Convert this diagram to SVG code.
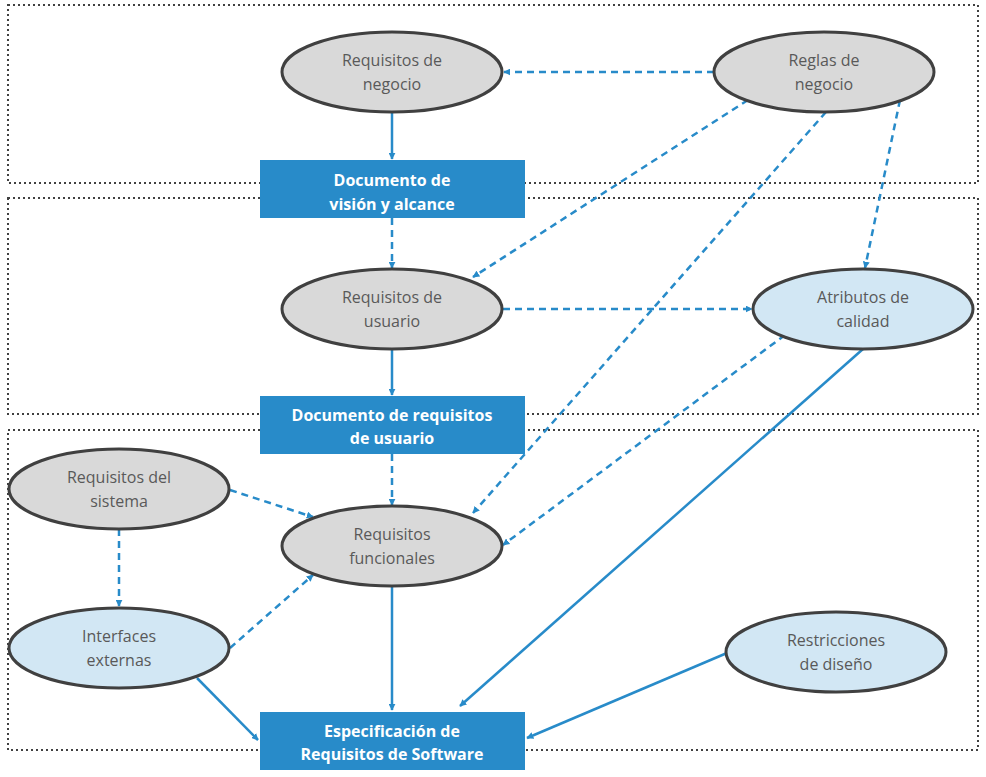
<svg xmlns="http://www.w3.org/2000/svg" width="986" height="777" viewBox="0 0 986 777">
<style>
.zone{fill:none;stroke:#404040;stroke-width:2;stroke-dasharray:2 3}
.g{fill:#d9d9d9;stroke:#404040;stroke-width:3}
.b{fill:#d2e7f4;stroke:#404040;stroke-width:3}
.r{fill:#288bc9}
.t{font-family:"Open Sans",sans-serif;font-size:16px;fill:#595959;text-anchor:middle}
.w{font-family:"Open Sans",sans-serif;font-size:16px;font-weight:bold;fill:#fff;text-anchor:middle}
.c{stroke:#288bc9;stroke-width:2.5;fill:none;marker-end:url(#a)}
.d{stroke-dasharray:7 5}
</style>
<defs><marker id="a" viewBox="0 0 10 10" refX="9" refY="5" markerWidth="7" markerHeight="7" markerUnits="userSpaceOnUse" orient="auto"><path d="M0,0L10,5L0,10z" fill="#288bc9"/></marker></defs>
<rect width="986" height="777" fill="#fff"/>
<rect class="zone" x="8" y="5" width="970" height="178"/>
<rect class="zone" x="8" y="198" width="970" height="216"/>
<rect class="zone" x="8" y="430" width="970" height="320"/>
<g id="connectors">
<line class="c d" x1="714" y1="72" x2="504" y2="72"/>
<line class="c" x1="392" y1="112" x2="392" y2="159"/>
<line class="c d" x1="392" y1="218" x2="392" y2="268"/>
<line class="c d" x1="748" y1="100" x2="473" y2="277"/>
<line class="c d" x1="826" y1="112" x2="473" y2="513"/>
<line class="c d" x1="900" y1="100" x2="865" y2="268"/>
<line class="c d" x1="503" y1="309" x2="752" y2="309"/>
<line class="c" x1="392" y1="349" x2="392" y2="395"/>
<line class="c d" x1="392" y1="454" x2="392" y2="505"/>
<line class="c d" x1="785" y1="335" x2="503" y2="545"/>
<line class="c" x1="863" y1="349" x2="460" y2="706"/>
<line class="c d" x1="230" y1="490" x2="313" y2="517"/>
<line class="c d" x1="119" y1="529" x2="119" y2="606"/>
<line class="c d" x1="230" y1="648" x2="313" y2="575"/>
<line class="c" x1="197" y1="678" x2="258" y2="740"/>
<line class="c" x1="392" y1="587" x2="392" y2="710"/>
<line class="c" x1="727" y1="653" x2="527" y2="738"/>
</g>
<g id="n1"><ellipse class="g" cx="392" cy="72" rx="110" ry="40"/><text class="t" x="392" y="66">Requisitos de</text><text class="t" x="392" y="90">negocio</text></g>
<g id="n2"><ellipse class="g" cx="824" cy="72" rx="110" ry="40"/><text class="t" x="824" y="66">Reglas de</text><text class="t" x="824" y="90">negocio</text></g>
<g id="n3"><rect class="r" x="260" y="160" width="265" height="58"/><text class="w" x="392" y="186">Documento de</text><text class="w" x="392" y="210">visión y alcance</text></g>
<g id="n4"><ellipse class="g" cx="392" cy="309" rx="110" ry="40"/><text class="t" x="392" y="303">Requisitos de</text><text class="t" x="392" y="327">usuario</text></g>
<g id="n5"><ellipse class="b" cx="863" cy="309" rx="110" ry="40"/><text class="t" x="863" y="303">Atributos de</text><text class="t" x="863" y="327">calidad</text></g>
<g id="n6"><rect class="r" x="260" y="396" width="265" height="58"/><text class="w" x="392" y="421">Documento de requisitos</text><text class="w" x="392" y="444">de usuario</text></g>
<g id="n7"><ellipse class="g" cx="119" cy="489" rx="110" ry="40"/><text class="t" x="119" y="483">Requisitos del</text><text class="t" x="119" y="507">sistema</text></g>
<g id="n8"><ellipse class="g" cx="392" cy="546" rx="110" ry="40"/><text class="t" x="392" y="540">Requisitos</text><text class="t" x="392" y="564">funcionales</text></g>
<g id="n9"><ellipse class="b" cx="119" cy="648" rx="110" ry="40"/><text class="t" x="119" y="642">Interfaces</text><text class="t" x="119" y="666">externas</text></g>
<g id="n10"><ellipse class="b" cx="836" cy="652" rx="110" ry="40"/><text class="t" x="836" y="646">Restricciones</text><text class="t" x="836" y="670">de diseño</text></g>
<g id="n11"><rect class="r" x="260" y="712" width="265" height="58"/><text class="w" x="392" y="737">Especificación de</text><text class="w" x="392" y="760">Requisitos de Software</text></g>
</svg>
